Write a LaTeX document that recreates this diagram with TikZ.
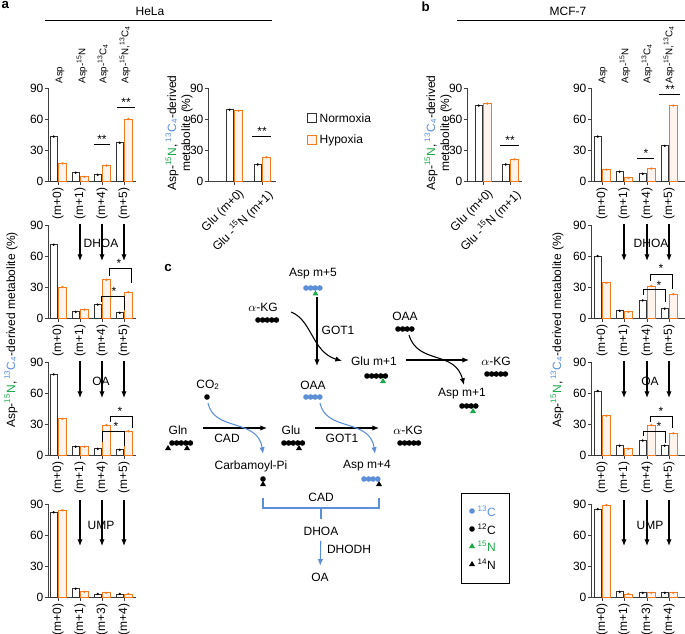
\documentclass[tikz,border=0pt]{standalone}
\usepackage{fontspec}
\setmainfont{Liberation Sans}
\usetikzlibrary{arrows.meta,calc}
\definecolor{orng}{HTML}{F47B20}
\definecolor{blu}{HTML}{5B8FD8}
\definecolor{grn}{HTML}{1BAA4A}
\tikzset{
 lbl/.style={font=\fontsize{9}{10.5}\selectfont, inner sep=1pt},
 clbl/.style={font=\fontsize{7.3}{8.5}\selectfont, inner sep=1pt},
 ax/.style={line width=0.6pt, black!75},
 nb/.style={draw=black!80, fill=white, line width=0.6pt},
 hb/.style={draw=orng, fill=orng!8, line width=0.6pt},
 sig/.style={line width=0.6pt},
 darr/.style={-{Latex[length=5pt,width=4pt]}, line width=0.9pt},
 carr/.style={-{Latex[length=5pt,width=4pt]}, line width=0.8pt},
 barr/.style={-{Latex[length=5pt,width=4pt]}, line width=0.8pt, blu},
 cdot/.style={circle, fill=black, inner sep=0pt, minimum size=4.2pt},
 bdot/.style={circle, fill=blu, inner sep=0pt, minimum size=4.2pt},
}
% axis: x, y0, xend, group centers
\newcommand\myaxis[4]{%
 \draw[ax] (#1,#2) -- (#1,#2-93);
 \foreach \k/\t in {0/0,1/30,2/60,3/90}{
   \draw[ax] (#1-3,#2-\k*31) -- (#1,#2-\k*31);
   \node[lbl, anchor=east] at (#1-3,#2-\k*31) {\t};}
 \draw[ax] (#1,#2) -- (#3,#2);
 \foreach \c in {#4}{\draw[ax] (\c,#2) -- (\c,#2+4);}
}
% bars: y0, center, N, H
\newcommand\bp[4]{%
 \draw[nb] (#2-8,#1) rectangle (#2-0.7,#1-#3*1.033);
 \draw[hb] (#2+0.7,#1) rectangle (#2+8,#1-#4*1.033);
 \fill[black] (#2-4.3,#1-#3*1.033) circle (1.3);
 \fill[orng] (#2+4.3,#1-#4*1.033) circle (1.3);
}
\newcommand\cats[2]{%
 \foreach \c/\t in {#2}{\node[lbl, rotate=90, anchor=east] at (\c,#1+5) {\t};}}
\begin{document}
\begin{tikzpicture}[x=0.75pt,y=-0.75pt]
\useasboundingbox (0,0) rectangle (685,634);
% ===== headers
\node[lbl, font=\bfseries\fontsize{10}{11}\selectfont, anchor=north west] (la) at (0,0) {a};
\node[lbl, font=\bfseries\fontsize{10}{11}\selectfont, anchor=north west] (lb) at (420,0) {b};
\node[lbl] (hela) at (150,11) {HeLa};
\draw[line width=0.7pt] (45,20) -- (272,20);
\node[lbl] (mcf) at (568,11) {MCF-7};
\draw[line width=0.7pt] (457,20) -- (685,20);
% ===== legend
\draw[nb] (307,113) rectangle (316,122); \node[lbl, anchor=west] (ln) at (318,118) {Normoxia};
\draw[hb] (307,135) rectangle (316,144); \node[lbl, anchor=west] (lh) at (318,140) {Hypoxia};
% ===== column labels
\foreach \c/\t in {60/Asp,82/{Asp-\textsuperscript{15}N},103/{Asp-\textsuperscript{13}C\textsubscript{4}},125/{Asp-\textsuperscript{15}N,\textsuperscript{13}C\textsubscript{4}},
 603/Asp,625/{Asp-\textsuperscript{15}N},647/{Asp-\textsuperscript{13}C\textsubscript{4}},669/{Asp-\textsuperscript{15}N,\textsuperscript{13}C\textsubscript{4}}}
 {\node[clbl, rotate=90, anchor=west] at (\c,85) {\t};}
% ===== Panel a main charts
\foreach \y in {181,318,455,597}{\myaxis{48}{\y}{136}{58,80,102,124}}
\foreach \y in {181,318,455}{\cats{\y}{58/(m+0),80/(m+1),102/(m+4),124/(m+5)}}
\cats{597}{58/(m+0),80/(m+1),102/(m+3),124/(m+4)}
\bp{181}{58}{43}{17}\bp{181}{80}{8}{4}\bp{181}{102}{6}{15}\bp{181}{124}{37}{60}
\bp{318}{58}{71}{30}\bp{318}{80}{6}{8}\bp{318}{102}{13}{37}\bp{318}{124}{5}{25}
\bp{455}{58}{78}{35}\bp{455}{80}{8}{8}\bp{455}{102}{6}{29}\bp{455}{124}{5}{23}
\bp{597}{58}{82}{84}\bp{597}{80}{8}{5}\bp{597}{102}{3}{4}\bp{597}{124}{3}{3}
% sig a
\draw[sig] (94,144) -- (110,144); \node[lbl] at (102,139) {**};
\draw[sig] (117,107) -- (135,107); \node[lbl] at (126,102) {**};
\draw[sig] (101,302) -- (101,296) -- (124,296) -- (124,310); \node[lbl] at (114,291) {*};
\draw[sig] (109,276) -- (109,268) -- (131,268) -- (131,283); \node[lbl] at (119,263) {*};
\draw[sig] (102,442) -- (102,431) -- (124,431) -- (124,446); \node[lbl] at (116,426) {*};
\draw[sig] (110,422) -- (110,416) -- (132,416) -- (132,428); \node[lbl] at (120,411) {*};
% arrows a
\foreach \c in {80,102,124}{
 \draw[darr] (\c,224) -- (\c,261);
 \draw[darr] (\c,361) -- (\c,398);
 \draw[darr] (\c,500) -- (\c,546);}
\node[lbl] (dhoaa) at (101,243) {DHOA};
\node[lbl] (oaa1) at (101,381) {OA};
\node[lbl] (umpa) at (101,525) {UMP};
\node[lbl, rotate=90] (ylaba) at (11,330) {Asp-{\color{grn}\textsuperscript{15}N},\,{\color{blu}\textsuperscript{13}C\textsubscript{4}}-derived metabolite (\%)};
% ===== Panel a Glu chart
\myaxis{208}{181}{276}{234,262}
\bp{181}{234}{69}{68}\bp{181}{262}{16}{23}
\draw[sig] (252,136) -- (271,136); \node[lbl] at (262,131) {**};
\node[lbl, rotate=45, anchor=north east] at (238,186) {Glu (m+0)};
\node[lbl, rotate=45, anchor=north east] at (266,186) {Glu -\textsuperscript{15}N (m+1)};
\node[lbl, rotate=90, align=center] (ylabg) at (179,133) {Asp-{\color{grn}\textsuperscript{15}N},\,{\color{blu}\textsuperscript{13}C\textsubscript{4}}-derived\\metabolite (\%)};
% ===== Panel b Glu chart
\myaxis{467}{181}{522}{483,510}
\bp{181}{483}{73}{75}\bp{181}{510}{16}{21}
\draw[sig] (500,145) -- (519,145); \node[lbl] at (510,140) {**};
\node[lbl, rotate=45, anchor=north east] at (487,186) {Glu (m+0)};
\node[lbl, rotate=45, anchor=north east] at (514,186) {Glu -\textsuperscript{15}N (m+1)};
\node[lbl, rotate=90, align=center] (ylabgb) at (438,133) {Asp-{\color{grn}\textsuperscript{15}N},\,{\color{blu}\textsuperscript{13}C\textsubscript{4}}-derived\\metabolite (\%)};
% ===== Panel b main charts
\foreach \y in {181,318,455,597}{\myaxis{591}{\y}{685}{602,624,647,669}}
\foreach \y in {181,318,455}{\cats{\y}{602/(m+0),624/(m+1),647/(m+4),669/(m+5)}}
\cats{597}{602/(m+0),624/(m+1),647/(m+3),669/(m+4)}
\bp{181}{602}{43}{11}\bp{181}{624}{9}{3}\bp{181}{647}{7}{12}\bp{181}{669}{34}{73}
\bp{318}{602}{60}{34}\bp{318}{624}{7}{6}\bp{318}{647}{17}{31}\bp{318}{669}{9}{23}
\bp{455}{602}{62}{38}\bp{455}{624}{9}{6}\bp{455}{647}{14}{29}\bp{455}{669}{9}{21}
\bp{597}{602}{85}{89}\bp{597}{624}{5}{3}\bp{597}{647}{4}{4}\bp{597}{669}{4}{4}
\draw[sig] (637,158) -- (654,158); \node[lbl] at (646,153) {*};
\draw[sig] (659,94) -- (680,94); \node[lbl] at (670,89) {**};
\draw[sig] (643,295) -- (643,289) -- (665,289) -- (665,302); \node[lbl] at (659,285) {*};
\draw[sig] (650,281) -- (650,274) -- (672,274) -- (672,289); \node[lbl] at (661,268) {*};
\draw[sig] (643,436) -- (643,431) -- (665,431) -- (665,443); \node[lbl] at (659,426) {*};
\draw[sig] (650,422) -- (650,416) -- (672,416) -- (672,428); \node[lbl] at (661,411) {*};
\foreach \c in {624,647,669}{
 \draw[darr] (\c,224) -- (\c,261);
 \draw[darr] (\c,361) -- (\c,398);
 \draw[darr] (\c,500) -- (\c,546);}
\node[lbl] (dhoab) at (651,243) {DHOA};
\node[lbl] (oab) at (650,381) {OA};
\node[lbl] (umpb) at (650,525) {UMP};
\node[lbl, rotate=90] (ylabb) at (557,330) {Asp-{\color{grn}\textsuperscript{15}N},\,{\color{blu}\textsuperscript{13}C\textsubscript{4}}-derived metabolite (\%)};
% ===== Panel c
\node[lbl, font=\bfseries\fontsize{10}{11}\selectfont] (lc) at (168,268) {c};
\node[lbl] (asp5) at (313,274) {Asp m+5};
\foreach \i in {0,1,2,3}{\node[bdot] at (306+\i*4.6,288) {};}
\fill[grn] (315.5,290.5) -- (312.5,295.5) -- (318.5,295.5) -- cycle;
\node[lbl] (akg1) at (263,307) {$\alpha$-KG};
\foreach \i in {0,...,4}{\node[cdot] at (258+\i*4.6,320) {};}
\node[lbl] (got1a) at (338,330) {GOT1};
\node[lbl] (glu1) at (374,361) {Glu m+1};
\foreach \i in {0,...,4}{\node[cdot] at (367+\i*4.6,376) {};}
\fill[grn] (383,378) -- (380,383) -- (386,383) -- cycle;
\node[lbl] (oaa2) at (405,316) {OAA};
\foreach \i in {0,...,3}{\node[cdot] at (398+\i*4.6,329) {};}
\node[lbl] (akg2) at (496,361) {$\alpha$-KG};
\foreach \i in {0,...,4}{\node[cdot] at (487+\i*4.6,374) {};}
\node[lbl] (asp1) at (462,394) {Asp m+1};
\foreach \i in {0,...,3}{\node[cdot] at (462+\i*4.6,406) {};}
\fill[grn] (473,408) -- (470,413) -- (476,413) -- cycle;
\coordinate (v1) at (317,297); \coordinate (v2) at (317,366);
\draw[carr] (v1) -- (v2);
\coordinate (k1) at (291,312); \coordinate (k2) at (342,361);
\draw[carr] (k1) .. controls (312,320) and (312,352) .. (k2);
\coordinate (h1) at (406,360); \coordinate (h2) at (469,360);
\draw[carr] (h1) -- (h2);
\coordinate (o1) at (409,335); \coordinate (o2) at (464,385);
\draw[carr] (o1) .. controls (418,365) and (455,350) .. (o2);
% bottom row
\node[lbl] (co2) at (208,385) {CO\textsubscript{2}};
\node[cdot] (co2d) at (207,397) {};
\node[lbl] (oaa3) at (313,385) {OAA};
\foreach \i in {0,...,3}{\node[bdot] at (306+\i*4.6,397) {};}
\node[lbl] (gln) at (178,430) {Gln};
\foreach \i in {0,...,4}{\node[cdot] at (172+\i*4.6,443) {};}
\fill (168,445) -- (165,450) -- (171,450) -- cycle;
\fill (187,445) -- (184,450) -- (190,450) -- cycle;
\node[lbl] (glu) at (291,430) {Glu};
\foreach \i in {0,...,4}{\node[cdot] at (284+\i*4.6,443) {};}
\fill (299,445) -- (296,450) -- (302,450) -- cycle;
\node[lbl] (akg3) at (408,430) {$\alpha$-KG};
\foreach \i in {0,...,4}{\node[cdot] at (400+\i*4.6,443) {};}
\coordinate (c1) at (203,428); \coordinate (c2) at (267,428);
\draw[carr] (c1) -- (c2);
\node[lbl] (cad1) at (227,438) {CAD};
\coordinate (g1) at (315,428); \coordinate (g2) at (379,428);
\draw[carr] (g1) -- (g2);
\node[lbl] (got1b) at (342,438) {GOT1};
\coordinate (b1) at (208,403); \coordinate (b2) at (263,454);
\draw[barr] (b1) .. controls (214,432) and (258,418) .. (b2);
\coordinate (b3) at (320,403); \coordinate (b4) at (375,454);
\draw[barr] (b3) .. controls (326,432) and (370,418) .. (b4);
\node[lbl] (carb) at (251,466) {Carbamoyl-Pi};
\node[cdot] at (263,479) {};
\fill (263,481) -- (260,486) -- (266,486) -- cycle;
\node[lbl] (asp4) at (367,466) {Asp m+4};
\foreach \i in {0,...,3}{\node[bdot] at (364+\i*4.6,479) {};}
\fill (379,481) -- (376,486) -- (382,486) -- cycle;
\draw[blu, line width=0.8pt] (263,498) -- (263,508) -- (379,508) -- (379,498);
\draw[blu, line width=0.8pt] (321,508) -- (321,519);
\node[lbl] (cad2) at (321,497) {CAD};
\node[lbl] (dhoac) at (321,531) {DHOA};
\node[lbl] (oac) at (320,577) {OA};
\draw[barr, shorten <=3pt, shorten >=4pt] (dhoac) -- (oac);
\node[lbl] (dhodh) at (349,549) {DHODH};
% legend box
\draw[line width=0.7pt] (461,493) rectangle (509,583);
\node[bdot] at (472,511) {}; \node[lbl, anchor=west, text=blu] (l13) at (476,511) {\textsuperscript{13}C};
\node[cdot] at (472,529) {}; \node[lbl, anchor=west] (l12) at (476,529) {\textsuperscript{12}C};
\fill[grn] (472,543) -- (469,548) -- (475,548) -- cycle; \node[lbl, anchor=west, text=grn] (l15) at (476,546) {\textsuperscript{15}N};
\fill (472,561) -- (469,566) -- (475,566) -- cycle; \node[lbl, anchor=west] (l14) at (476,564) {\textsuperscript{14}N};
\end{tikzpicture}
\end{document}
